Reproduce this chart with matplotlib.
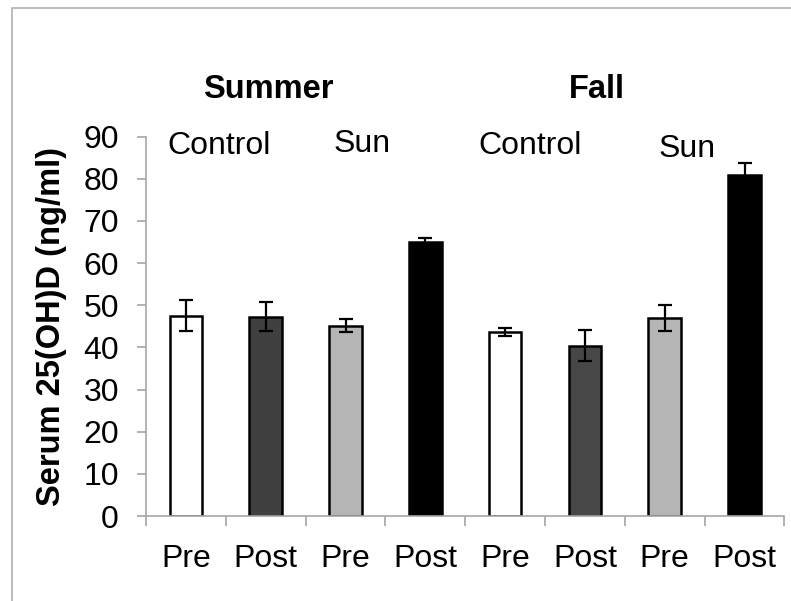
import matplotlib
matplotlib.use("Agg")
import matplotlib.pyplot as plt
from matplotlib.patches import Rectangle
import numpy as np

categories = ["Pre", "Post", "Pre", "Post", "Pre", "Post", "Pre", "Post"]
values = [47.5, 47.3, 45.2, 65.0, 43.7, 40.4, 46.9, 80.8]
errors = [3.7, 3.4, 1.6, 1.0, 1.0, 3.7, 3.1, 2.9]
colors = ["#ffffff", "#404040", "#b5b5b5", "#000000",
          "#ffffff", "#474747", "#b5b5b5", "#000000"]
season_labels = ["Summer", "Fall"]
group_labels = ["Control", "Sun", "Control", "Sun"]
yticks = [0, 10, 20, 30, 40, 50, 60, 70, 80, 90]

plt.rcParams['font.family'] = ['Liberation Sans', 'DejaVu Sans']

fig = plt.figure(figsize=(7.91, 6.01), dpi=100)
W, H = 791, 601
ax = fig.add_axes([146 / W, (H - 516) / H, 638.4 / W, (516 - 136.7) / H])

x = np.arange(len(values)) + 0.5
ax.bar(x, values, width=0.41, color=colors, edgecolor="black", linewidth=1.8, zorder=2)
ax.errorbar(x, values, yerr=errors, fmt="none", ecolor="black",
            elinewidth=1.6, capsize=5, capthick=1.6, zorder=3)

ax.set_xlim(0, 8)
ax.set_ylim(0, 90)
ax.set_yticks(yticks)
ax.set_yticklabels([str(v) for v in yticks], fontsize=23)
ax.set_xticks(x)
ax.set_xticklabels(categories, fontsize=23)
ax.set_xticks(np.arange(0, 9), minor=True)
ax.tick_params(axis="x", which="major", length=0, pad=20)
ax.tick_params(axis="x", which="minor", length=7, width=1.2, color="#a6a6a6", direction="out")
ax.tick_params(axis="y", length=6.5, width=1.2, color="#a6a6a6", pad=13)

for s in ["top", "right"]:
    ax.spines[s].set_visible(False)
for s in ["left", "bottom"]:
    ax.spines[s].set_color("#a6a6a6")
    ax.spines[s].set_linewidth(1.2)

ax.set_ylabel("Serum 25(OH)D (ng/ml)", fontsize=23.5, fontweight="bold", labelpad=12)

def fx(px):
    return px / W

def fy(py):
    return (H - py) / H

fig.text(fx(268), fy(98), season_labels[0], fontsize=23.5, fontweight="bold", ha="center", va="baseline")
fig.text(fx(597), fy(98), season_labels[1], fontsize=23.5, fontweight="bold", ha="center", va="baseline")
group_pos = [(219, 154), (362, 152), (530, 154), (687, 157)]
for lbl, (px, py) in zip(group_labels, group_pos):
    fig.text(fx(px), fy(py), lbl, fontsize=23, ha="center", va="baseline")

fig.patches.append(Rectangle((11.5 / W, -0.1), 1.2, fy(8) + 0.1, transform=fig.transFigure,
                             fill=False, edgecolor="#b0b0b0", linewidth=1.2))

fig.savefig("out.png", dpi=100)
